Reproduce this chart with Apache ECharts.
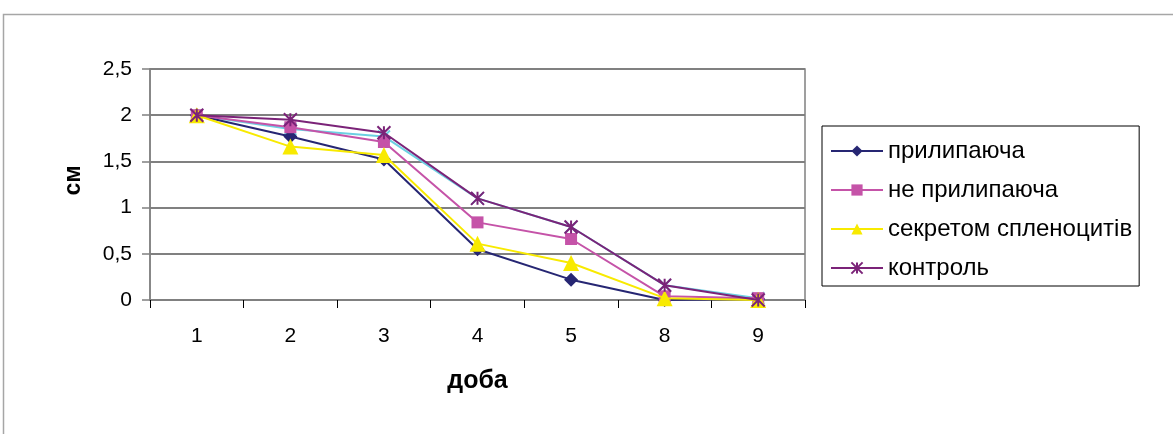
<!DOCTYPE html>
<html>
<head>
<meta charset="utf-8">
<script src="https://cdn.jsdelivr.net/npm/echarts@6/dist/echarts.min.js"></script>
<style>
html,body{margin:0;padding:0;background:#fff;}
#chart{width:1173px;height:434px;}
</style>
</head>
<body>
<div id="chart"></div>
<script>
const categories = ['1', '2', '3', '4', '5', '8', '9'];
const seriesNames = ['прилипаюча', 'не прилипаюча', 'секретом спленоцитів', 'контроль'];
const prylypaiucha = [2, 1.77, 1.52, 0.55, 0.22, 0.0, 0.01];
const neprylypaiucha = [2, 1.87, 1.71, 0.84, 0.66, 0.04, 0.02];
const sekretom = [2, 1.66, 1.57, 0.61, 0.40, 0.02, 0.0];
const kontrol = [2, 1.95, 1.81, 1.10, 0.79, 0.16, 0.0];
const hiddenSeries = [2, 1.85, 1.77, 1.10, 0.79, 0.16, 0.02];
const yTicks = [0, 0.5, 1, 1.5, 2, 2.5];

const FONT = '"Liberation Sans", Arial, sans-serif';
const chart = echarts.init(document.getElementById('chart'));

const starPath = 'path://M0,0L10,10M10,0L0,10M5,0L5,10';
const xPath = 'path://M0,0L10,10M10,0L0,10';

chart.setOption({
  animation: false,
  backgroundColor: '#fff',
  textStyle: { fontFamily: FONT, color: '#000' },
  graphic: [{
    type: 'rect',
    shape: { x: 3.5, y: 14.5, width: 1300, height: 600 },
    style: { fill: 'none', stroke: '#a6a6a6', lineWidth: 1.5 },
    silent: true
  }],
  grid: { left: 150, right: 368, top: 69, bottom: 134, show: true, borderColor: '#808080', borderWidth: 1.5, backgroundColor: 'transparent' },
  legend: {
    data: seriesNames,
    orient: 'vertical',
    left: 822, top: 126,
    padding: [13, 7, 6, 8],
    itemWidth: 52, itemHeight: 14, itemGap: 15,
    borderColor: '#000', borderWidth: 1,
    textStyle: { fontFamily: FONT, fontSize: 24, color: '#000' }
  },
  xAxis: {
    type: 'category',
    data: categories,
    boundaryGap: true,
    name: 'доба',
    nameLocation: 'middle',
    nameGap: 69,
    nameTextStyle: { fontFamily: FONT, fontSize: 25, fontWeight: 'bold', color: '#000' },
    axisLine: { lineStyle: { color: '#808080', width: 1.5 } },
    axisTick: { show: true, alignWithLabel: false, length: 8, lineStyle: { color: '#000', width: 1 } },
    axisLabel: { fontFamily: FONT, fontSize: 21, color: '#000', margin: 26 },
    splitLine: { show: false }
  },
  yAxis: {
    type: 'value',
    min: yTicks[0], max: yTicks[yTicks.length - 1], interval: 0.5,
    name: 'см',
    nameLocation: 'middle',
    nameGap: 65,
    nameRotate: 90,
    nameTextStyle: { fontFamily: FONT, fontSize: 23, fontWeight: 'bold', color: '#000', padding: [0, 0, 0, 8] },
    axisLine: { show: true, lineStyle: { color: '#808080', width: 1.5 } },
    axisTick: { show: true, length: 8, lineStyle: { color: '#808080', width: 1.5 } },
    axisLabel: { fontFamily: FONT, fontSize: 21, color: '#000', margin: 18,
      formatter: v => String(v).replace('.', ',') },
    splitLine: { show: true, lineStyle: { color: '#808080', width: 2 } }
  },
  series: [
    { name: '', type: 'line', data: hiddenSeries, symbol: xPath, symbolSize: 12,
      lineStyle: { color: '#6cd0e2', width: 2 },
      itemStyle: { color: '#6cd0e2', borderColor: '#6cd0e2', borderWidth: 2 }, z: 1 },
    { name: seriesNames[0], type: 'line', data: prylypaiucha, symbol: 'diamond', symbolSize: 14,
      lineStyle: { color: '#262673', width: 2 }, itemStyle: { color: '#262673' }, z: 2 },
    { name: seriesNames[1], type: 'line', data: neprylypaiucha, symbol: 'rect', symbolSize: 12,
      lineStyle: { color: '#c553a8', width: 2 }, itemStyle: { color: '#c553a8' }, z: 3 },
    { name: seriesNames[2], type: 'line', data: sekretom, symbol: 'triangle', symbolSize: 16,
      lineStyle: { color: '#f8ea00', width: 2 }, itemStyle: { color: '#f8ea00' }, z: 4 },
    { name: seriesNames[3], type: 'line', data: kontrol, symbol: starPath, symbolSize: 13,
      lineStyle: { color: '#7b2378', width: 2 },
      itemStyle: { color: '#7b2378', borderColor: '#7b2378', borderWidth: 2 }, z: 5 }
  ]
});
</script>
</body>
</html>
